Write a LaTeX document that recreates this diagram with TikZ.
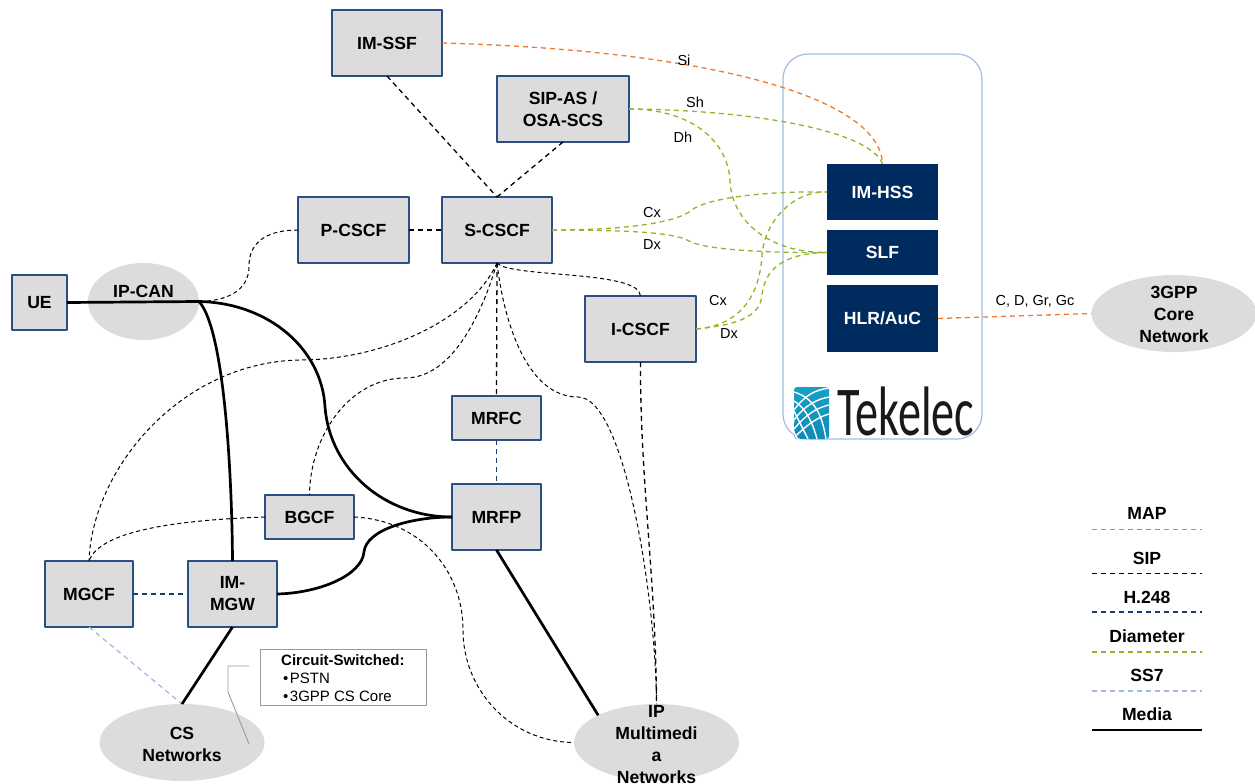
\documentclass[tikz,border=0pt]{standalone}
\usepackage{fontspec}
\setmainfont{Liberation Sans}
\newfontfamily\logofont{Carlito}
\usetikzlibrary{shapes.geometric}
\definecolor{mapcol}{HTML}{F07830}
\definecolor{dimcol}{HTML}{8DB62A}
\definecolor{h248col}{HTML}{1A3A74}
\definecolor{ss7col}{HTML}{A3BBE2}
\definecolor{boxcol}{HTML}{DCDCDC}
\definecolor{edgecol}{HTML}{2A4F85}
\definecolor{navycol}{HTML}{002B5F}
\definecolor{logotop}{HTML}{17A0C4}
\definecolor{logolow}{HTML}{118AB8}

\begin{document}
\begin{tikzpicture}[x=1pt,y=-1pt,line join=round]
  \tikzstyle{bold text}=[font=\fontsize{17.6}{22}\selectfont\bfseries,align=center]
  \tikzstyle{imsbox}=[bold text,rectangle,fill=boxcol,draw=edgecol,line width=1.1pt,outer sep=0pt,inner sep=0pt]
  \tikzstyle{hssbox}=[bold text,rectangle,fill=navycol,text=white,draw=none,outer sep=0pt,inner sep=0pt,minimum width=111pt]
  \tikzstyle{cloud}=[bold text,ellipse,fill=boxcol,draw=none,outer sep=0pt,inner sep=0pt,minimum width=165pt,minimum height=77pt]
  \tikzstyle{iface}=[font=\fontsize{14.5}{17}\selectfont,inner sep=0pt]
  \tikzstyle{dashes}=[dash pattern=on 5pt off 4pt,line width=1.3pt]
  \tikzstyle{mapline}=[dashes,draw=mapcol]
  \tikzstyle{sipline}=[dashes,draw=black]
  \tikzstyle{thinsip}=[dash pattern=on 4pt off 3pt,line width=1pt,draw=black]
  \tikzstyle{h248line}=[dashes,draw=h248col]
  \tikzstyle{dimline}=[dashes,draw=dimcol]
  \tikzstyle{ss7line}=[dashes,draw=ss7col]
  \tikzstyle{medialine}=[line width=2.7pt,draw=black]

  \useasboundingbox (0,0) rectangle (1255,784);

  % Tekelec frame and logo
  \node[rectangle,rounded corners=25pt,draw=ss7col,line width=1.2pt,outer sep=0pt,minimum width=199pt,minimum height=385pt] (FRAME) at (882.5,246.5) {};
  \begin{scope}
    \clip[rounded corners=3pt] (794,387) rectangle (829,439);
    \shade[bottom color=logolow,top color=logotop] (794,387) rectangle (829,439);
    \foreach \a/\b/\c/\d in {410/805/395/815,420/806/404/818,429/808/412/820,438/810/421/822}
      \draw[white,line width=1.4pt] (794,\a) .. controls (\b,\c) and (\d,\c-5) .. (829,\c-7);
    \foreach \a/\b/\c in {392/822/826,401/813/817,411/805/808,421/798/800}
      \draw[white,line width=1.4pt] (794,\a) .. controls (\b-8,\a+6) and (\b,\a+22) .. (\c,439);
  \end{scope}
  \node[inner sep=0pt,anchor=base west,text=black!90] (LOGO) at (837,435) {\logofont\fontsize{70}{70}\selectfont\scalebox{.66}[1]{Tekelec}};

  % boxes
  \node[imsbox,minimum width=110pt,minimum height=66pt] (IMSSF)  at (387,43)    {IM-SSF};
  \node[imsbox,minimum width=132pt,minimum height=66pt] (SIPAS)  at (563,109)   {SIP-AS /\\OSA-SCS};
  \node[imsbox,minimum width=111pt,minimum height=66pt] (PCSCF)  at (353.5,230) {P-CSCF};
  \node[imsbox,minimum width=110pt,minimum height=66pt] (SCSCF)  at (497,230)   {S-CSCF};
  \node[imsbox,minimum width=111pt,minimum height=66pt] (ICSCF)  at (640.5,329) {\raisebox{-1.5pt}{I-CSCF}};
  \node[imsbox,minimum width=55pt,minimum height=55pt]  (UE)     at (39.5,302.5) {UE};
  \node[imsbox,minimum width=89pt,minimum height=44pt]  (MRFC)   at (496.5,418) {MRFC};
  \node[imsbox,minimum width=89pt,minimum height=66pt]  (MRFP)   at (496.5,517) {MRFP};
  \node[imsbox,minimum width=89pt,minimum height=44pt]  (BGCF)   at (309.5,517) {BGCF};
  \node[imsbox,minimum width=88pt,minimum height=66pt]  (MGCF)   at (89,594)    {MGCF};
  \node[imsbox,minimum width=89pt,minimum height=66pt]  (IMMGW)  at (232.5,594) {IM-\\MGW};
  \node[hssbox,minimum height=56pt] (IMHSS) at (882.5,192)   {IM-HSS};
  \node[hssbox,minimum height=45pt] (SLF)   at (882.5,252.5) {SLF};
  \node[hssbox,minimum height=67pt] (HLR)   at (882.5,318.5) {HLR/AuC};

  % clouds
  \node[cloud,minimum width=111pt] (IPCAN) at (143.5,301.5) {};
  \node[bold text,inner sep=0pt] (IPCANTXT) at (143.5,291) {IP-CAN};
  \node[cloud] (CSNET)  at (182,742.5)  {};
  \node[bold text,inner sep=0pt] (CSTXT) at (182,744.5) {CS\\Networks};
  \node[cloud] (IPNET)  at (656.5,742.5) {};
  \node[bold text,inner sep=0pt] (IPTXT) at (656.5,744.5) {IP\\Multimedi\\a\\Networks};
  \node[cloud] (CORE)   at (1174,313.5) {};
  \node[bold text,inner sep=0pt] (CORETXT) at (1174,314.5) {3GPP\\Core\\Network};

  % circuit switched note
  \node[rectangle,draw=black!40,line width=1pt,outer sep=0pt,minimum width=166pt,minimum height=56pt] (NOTE) at (343,677) {};
  \node[anchor=west,inner sep=0pt,font=\fontsize{15}{18}\selectfont,align=left] (NOTETXT) at (281,678)
    {\textbf{Circuit-Switched:}\\[0pt]\kern2pt\textbullet\kern1.5pt PSTN\\\kern2pt\textbullet\kern1.5pt 3GPP CS Core};
  \coordinate (calla) at (249,666);
  \coordinate (callb) at (228,666);
  \coordinate (callc) at (228,692);
  \coordinate (calld) at (249,744);
  \draw[black!40,line width=.9pt] (calla) -- (callb) -- (callc) -- (calld);

  % straight links
  \path (IMSSF.south) edge[sipline] (SCSCF.north)
        (SIPAS.south) edge[sipline] (SCSCF.north)
        (PCSCF.east) edge[sipline] (SCSCF.west)
        (SCSCF.south) edge[sipline] (MRFC.north)
        (MRFC.south) edge[h248line] (MRFP.north)
        (MGCF.east) edge[h248line] (IMMGW.west)
        (MGCF.south) edge[ss7line] (CSNET.north)
        (HLR.east) edge[mapline] (CORE.west)
        ;

  % MAP and Diameter
  \draw[mapline] (IMSSF.east) .. controls (700,50) and (880,95) .. (IMHSS.north);
  \draw[dimline] (SIPAS.east) .. controls (750,110) and (870,130) .. (IMHSS.north);
  \draw[dimline] (SIPAS.east) .. controls (690,109) and (728,140) .. (730,181) .. controls (732,222) and (770,253) .. (SLF.west);
  \draw[dimline] (SCSCF.east) .. controls (620,230) and (670,224) .. (689,212) .. controls (705,197) and (770,191) .. (IMHSS.west);
  \draw[dimline] (SCSCF.east) .. controls (620,230) and (675,232) .. (689,241) .. controls (705,250) and (770,253) .. (SLF.west);
  \draw[dimline] (ICSCF.east) .. controls (745,325) and (760,290) .. (762,255) .. controls (764,225) and (790,191) .. (IMHSS.west);
  \draw[dimline] (ICSCF.east) .. controls (735,325) and (760,318) .. (762,295) .. controls (765,265) and (790,253) .. (SLF.west);

  % SIP
  \draw[thinsip] (PCSCF.west) .. controls (270,230) and (249,240) .. (249,266) .. controls (249,292) and (225,301) .. (IPCAN.east);
  \draw[thinsip] (SCSCF.south) .. controls (510,278) and (640,270) .. (ICSCF.north);
  \draw[thinsip] (SCSCF.south) .. controls (470,322) and (380,360) .. (300,360) .. controls (180,362) and (92,470) .. (MGCF.north);
  \draw[thinsip] (SCSCF.south) .. controls (480,320) and (450,378) .. (405,378) .. controls (350,378) and (310,435) .. (BGCF.north);
  \draw[thinsip] (SCSCF.south) .. controls (505,330) and (530,397) .. (578,397) .. controls (625,397) and (656,600) .. (IPNET.north);
  \draw[sipline] (ICSCF.south) .. controls (640,480) and (656,580) .. (IPNET.north);
  \draw[thinsip] (BGCF.east) .. controls (420,520) and (463,570) .. (463,630) .. controls (463,690) and (510,742) .. (IPNET.west);
  \draw[thinsip] (BGCF.west) .. controls (180,520) and (100,530) .. (MGCF.north);

  % media
  \path (UE.east) edge[medialine] (IPCAN.east)
        (IMMGW.south) edge[medialine] (CSNET.north)
        (MRFP.south) edge[medialine] (IPNET.north west)
        ;
  \draw[medialine] (IPCAN.east) .. controls (225,330) and (232,480) .. (IMMGW.north);
  \draw[medialine] (IPCAN.east) .. controls (270,303) and (322,350) .. (325,407) .. controls (330,470) and (385,517) .. (MRFP.west);
  \draw[medialine] (IMMGW.east) .. controls (320,593) and (362,575) .. (364,552) .. controls (366,530) and (410,517) .. (MRFP.west);

  % interface names
  \node[iface] (SILBL) at (684,60)  {Si};
  \node[iface] (SHLBL) at (695,102) {Sh};
  \node[iface] (DHLBL) at (683,137) {Dh};
  \node[iface] (CXA)   at (652,213) {Cx};
  \node[iface] (DXA)   at (652,245) {Dx};
  \node[iface] (CXB)   at (718,301) {Cx};
  \node[iface] (DXB)   at (729,334) {Dx};
  \node[iface] (CDLBL) at (1035,301) {C, D, Gr, Gc};

  % legend
  \foreach \nm/\ty/\ly/\lab/\sty in {a/513/529.5/MAP/mapline,b/558/573.5/SIP/sipline,c/597/612/H.248/h248line,d/636/652/Diameter/dimline,e/675/691/SS7/ss7line,f/714/730/Media/medialine}{
    \node[bold text,inner sep=0pt] (LEG\nm) at (1147,\ty) {\lab};
    \coordinate (lega\nm) at (1092,\ly);
    \coordinate (legb\nm) at (1202,\ly);
    \draw[\sty] (lega\nm) -- (legb\nm);
  }
\end{tikzpicture}
\end{document}
